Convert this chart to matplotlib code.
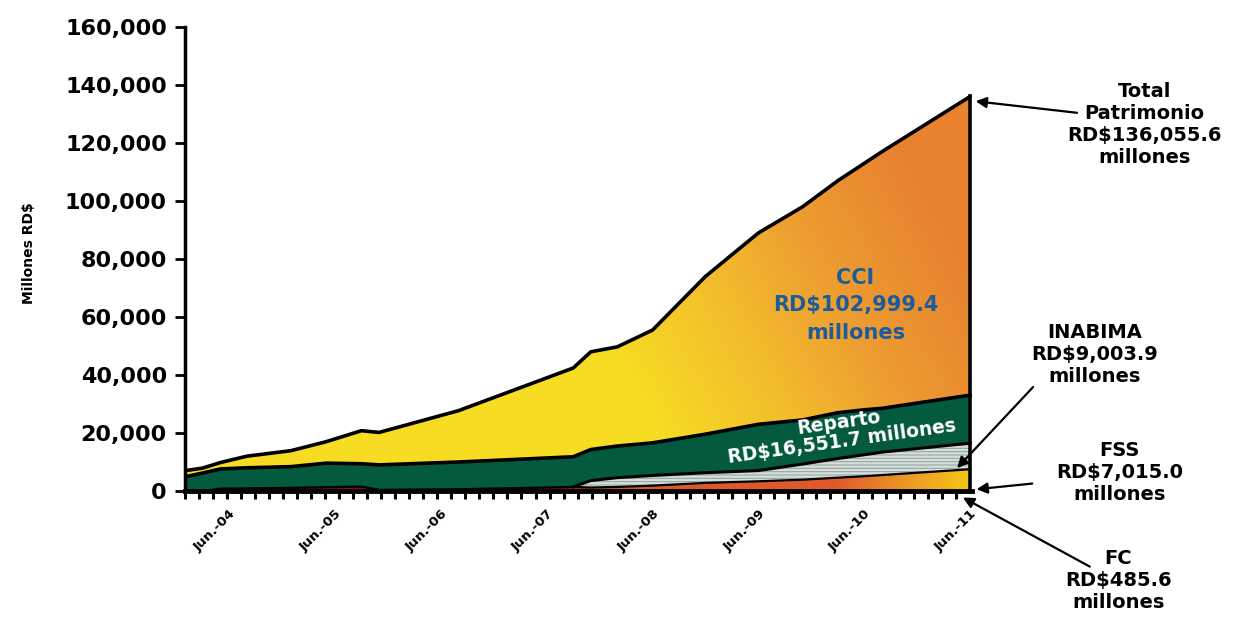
import numpy as np
import matplotlib.pyplot as plt
from matplotlib.colors import LinearSegmentedColormap
from matplotlib.patches import PathPatch
from matplotlib.ticker import FuncFormatter

plt.rcParams['font.family'] = ['DejaVu Sans']
plt.rcParams['hatch.linewidth'] = 0.7

# meses contados desde ene-2004 (valores en millones RD$)
meses = [0, 2, 4, 7, 12, 16, 20, 22, 31, 44, 46, 49, 53, 59, 65, 70, 74, 77, 79, 89]
fc = [0, 0, 0, 0, 0, 0, 0, 0, 0, 0, 0, 100, 150, 200, 250, 300, 300, 350, 400, 485.6]
fss = [0, 0, 800, 900, 1100, 1300, 1500, 400, 600, 1400, 1200, 1300, 1700, 2600, 3100, 3600, 4300, 4750, 5100, 7015.0]
inabima = [0, 0, 0, 0, 0, 0, 0, 0, 0, 0, 2400, 3200, 3500, 3500, 3700, 5400, 6600, 7400, 7900, 9003.9]
reparto = [4900, 6200, 6800, 7100, 7300, 8300, 7900, 8600, 9400, 10400, 10700, 10900, 11250, 13300, 15950,
           15200, 15800, 15500, 15100, 16551.7]
cci = [2100, 1700, 2200, 4000, 5500, 7400, 11400, 11200, 17700, 30600, 33700, 34200, 38900, 54400, 66000,
       73500, 80000, 85000, 88500, 102999.4]

etiquetas_x = ['Jun.-04', 'Jun.-05', 'Jun.-06', 'Jun.-07', 'Jun.-08', 'Jun.-09', 'Jun.-10', 'Jun.-11']
pos_etiquetas = [5, 17, 29, 41, 53, 65, 77, 89]

x = np.array(meses, dtype=float)
c1 = np.array(fc)
c2 = c1 + np.array(fss)
c3 = c2 + np.array(inabima)
c4 = c3 + np.array(reparto)
c5 = c4 + np.array(cci)

fig = plt.figure(figsize=(12.44, 6.18), dpi=100)
ax = fig.add_axes([0.1487, 0.2055, 0.6326, 0.7508])
ax.set_xlim(0, 89.2)
ax.set_ylim(0, 160000)


def relleno_gradiente(y0, y1, cmap, valores, extent):
    # poligono invisible y una imagen recortada a el
    poly = ax.fill_between(x, y0, y1, facecolor='none', edgecolor='none')
    patch = PathPatch(poly.get_paths()[0], transform=ax.transData, facecolor='none', edgecolor='none')
    ax.add_patch(patch)
    im = ax.imshow(valores, extent=extent, origin='lower', aspect='auto', cmap=cmap,
                   vmin=0, vmax=1, zorder=1, interpolation='bilinear')
    im.set_clip_path(patch)


# FC
ax.fill_between(x, 0, c1, color='#5E0A12', zorder=1, linewidth=0)

# FSS (rojo oscuro -> naranja -> amarillo)
cmap_fss = LinearSegmentedColormap.from_list('fss', [(0, '#8A0C1C'), (43 / 89, '#8A0C1C'), (46 / 89, '#DA582C'),
                                                     (74 / 89, '#E05A2B'), (82 / 89, '#EC9A26'), (1, '#F5C417')])
gx = np.linspace(0, 1, 400)[None, :].repeat(2, axis=0)
relleno_gradiente(c1, c2, cmap_fss, gx, [0, 89, 0, 9000])

# INABIMA
ax.fill_between(x[9:], c2[9:], c3[9:], facecolor='#D8DCDB', edgecolor='#86A59D',
                hatch='-----', linewidth=0, zorder=1)

# Reparto
ax.fill_between(x, c3, c4, color='#035A3F', zorder=1, linewidth=0)

# CCI (amarillo -> naranja)
cmap_cci = LinearSegmentedColormap.from_list('cci', ['#F6DC22', '#F3BE2C', '#EC9B31', '#E8822F'])
XX, YY = np.meshgrid(np.linspace(0, 89, 300), np.linspace(0, 140000, 200))
tt = np.clip((XX - 50) / 45 + (YY / 1000 - 40) / 250, 0, 1)
relleno_gradiente(c4, c5, cmap_cci, tt, [0, 89, 0, 140000])

# contornos negros
ax.plot(x, c2, color='black', lw=1.6, zorder=3, solid_joinstyle='round')
for c in (c4, c5):
    ax.plot(x, c, color='black', lw=2.6, zorder=3, solid_joinstyle='round')
ax.plot(x[9:], c3[9:], color='black', lw=2.2, zorder=3)
ax.plot([x[-1], x[-1]], [0, c5[-1]], color='black', lw=2.6, zorder=3)
ax.plot([x[0], x[0]], [0, c5[0]], color='black', lw=2.6, zorder=3)

# ejes
for s in ('top', 'right'):
    ax.spines[s].set_visible(False)
ax.spines['left'].set_linewidth(2.5)
ax.spines['bottom'].set_linewidth(3.5)
ax.spines['bottom'].set_zorder(4)
ax.set_yticks(np.arange(0, 160001, 20000))
ax.yaxis.set_major_formatter(FuncFormatter(lambda v, p: f'{v:,.0f}'))
ax.tick_params(axis='y', length=7, width=2, pad=6, labelsize=16)
for lab in ax.get_yticklabels():
    lab.set_fontweight('bold')

ax.set_xticks(pos_etiquetas)
ax.set_xticklabels(etiquetas_x, rotation=45, ha='right', rotation_mode='anchor',
                   fontsize=9.5, fontweight='bold')
ax.set_xticks(np.linspace(0, 89, 57), minor=True)
ax.tick_params(axis='x', which='minor', length=6, width=2.2)
ax.tick_params(axis='x', which='major', length=0, pad=12)

fig.text(0.023, 0.59, 'Millones RD$', rotation=90, ha='center', va='center',
         fontsize=10, fontweight='bold')

# textos dentro del grafico
ax.text(76, 64000, 'CCI\nRD$102,999.4\nmillones', ha='center', va='center', color='#1C5C9C',
        fontsize=15, fontweight='bold', linespacing=1.45, zorder=5)
ax.text(74.3, 20300, 'Reparto\nRD$16,551.7 millones', ha='center', va='center', color='white',
        fontsize=13.5, fontweight='bold', rotation=8, linespacing=1.05, zorder=5)

# etiquetas de la derecha con flechas
flecha = dict(arrowstyle='-|>', color='black', lw=1.6, mutation_scale=16)
etiquetas = [
    ('Total\nPatrimonio\nRD$136,055.6\nmillones', (0.920, 0.798), (0.868, 0.817), (89.3, 134500)),
    ('INABIMA\nRD$9,003.9\nmillones', (0.880, 0.426), (0.832, 0.377), (87.3, 7200)),
    ('FSS\nRD$7,015.0\nmillones', (0.900, 0.235), (0.832, 0.218), (89.4, 500)),
    ('FC\nRD$485.6\nmillones', (0.899, 0.061), (0.878, 0.081), (87.9, -1800)),
]
for txt, pos_txt, cola, punta in etiquetas:
    fig.text(pos_txt[0], pos_txt[1], txt, ha='center', va='center', fontsize=14,
             fontweight='bold', linespacing=1.2)
    ax.annotate('', xy=punta, xycoords='data', xytext=cola, textcoords='figure fraction',
                arrowprops=flecha, annotation_clip=False, zorder=6)

fig.savefig('out.png', dpi=100)
